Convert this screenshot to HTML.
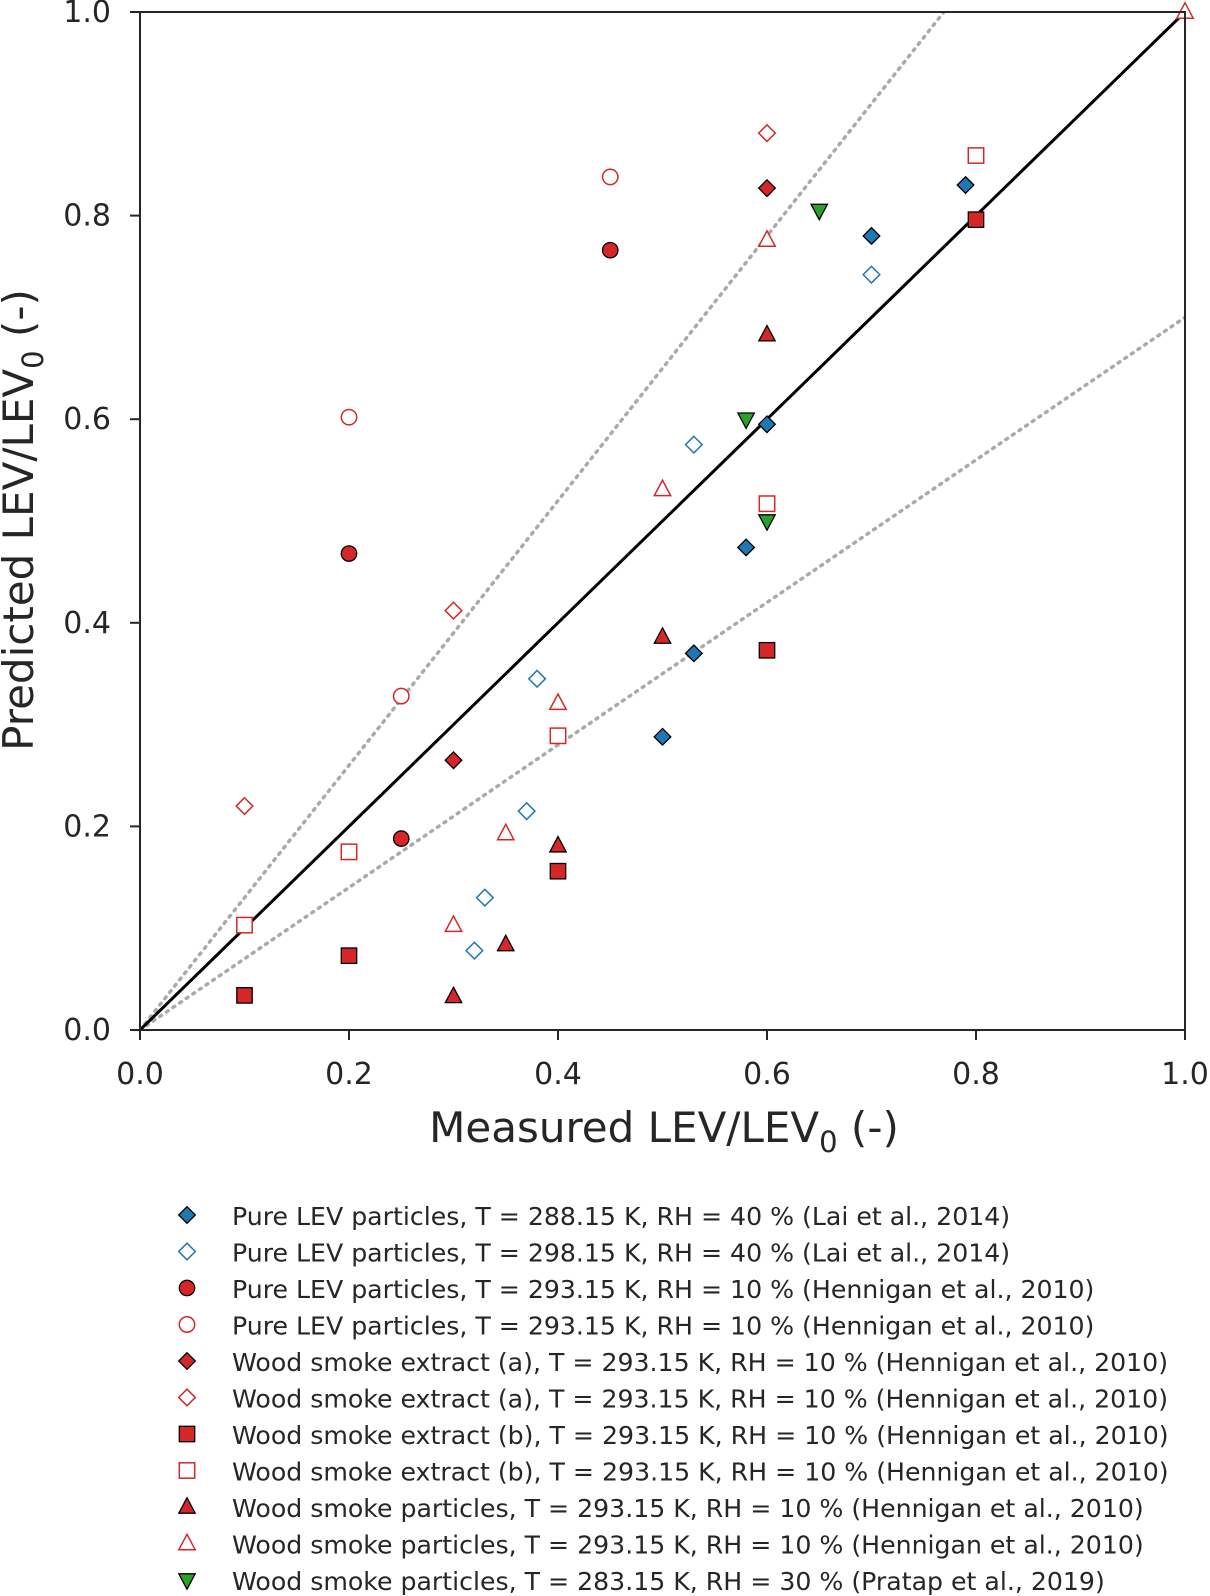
<!DOCTYPE html>
<html><head><meta charset="utf-8">
<style>
html,body{margin:0;padding:0;background:#fff;}
svg{display:block;font-family:"DejaVu Sans","Liberation Sans",sans-serif;}
</style></head>
<body>
<svg id="chart" width="1210" height="1596" viewBox="0 0 1210 1596"></svg>
<script>
const xTicks=[0,0.2,0.4,0.6,0.8,1.0];
const yTicks=[0,0.2,0.4,0.6,0.8,1.0];
const tickLabels=["0.0","0.2","0.4","0.6","0.8","1.0"];
const seriesNames=[
"Pure LEV particles, T = 288.15 K, RH = 40 % (Lai et al., 2014)",
"Pure LEV particles, T = 298.15 K, RH = 40 % (Lai et al., 2014)",
"Pure LEV particles, T = 293.15 K, RH = 10 % (Hennigan et al., 2010)",
"Pure LEV particles, T = 293.15 K, RH = 10 % (Hennigan et al., 2010)",
"Wood smoke extract (a), T = 293.15 K, RH = 10 % (Hennigan et al., 2010)",
"Wood smoke extract (a), T = 293.15 K, RH = 10 % (Hennigan et al., 2010)",
"Wood smoke extract (b), T = 293.15 K, RH = 10 % (Hennigan et al., 2010)",
"Wood smoke extract (b), T = 293.15 K, RH = 10 % (Hennigan et al., 2010)",
"Wood smoke particles, T = 293.15 K, RH = 10 % (Hennigan et al., 2010)",
"Wood smoke particles, T = 293.15 K, RH = 10 % (Hennigan et al., 2010)",
"Wood smoke particles, T = 283.15 K, RH = 30 % (Pratap et al., 2019)"];
const s0x=[0.79,0.70,0.60,0.58,0.53,0.50], s0y=[0.83,0.78,0.595,0.474,0.37,0.288];
const s1x=[0.70,0.53,0.38,0.37,0.33,0.32], s1y=[0.742,0.575,0.345,0.215,0.13,0.078];
const s2x=[0.45,0.20,0.25], s2y=[0.766,0.468,0.188];
const s3x=[0.45,0.20,0.25], s3y=[0.838,0.602,0.328];
const s4x=[0.60,0.30], s4y=[0.827,0.265];
const s5x=[0.60,0.30,0.10], s5y=[0.881,0.412,0.22];
const s6x=[0.80,0.60,0.40,0.20,0.10], s6y=[0.796,0.373,0.156,0.073,0.034];
const s7x=[0.80,0.60,0.40,0.20,0.10], s7y=[0.859,0.517,0.289,0.175,0.103];
const s8x=[0.60,0.50,0.40,0.35,0.30], s8y=[0.683,0.386,0.181,0.084,0.033];
const s9x=[1.0,0.60,0.50,0.40,0.35,0.30], s9y=[1.0,0.776,0.531,0.321,0.193,0.103];
const s10x=[0.65,0.58,0.60], s10y=[0.805,0.60,0.50];
const xs=[s0x,s1x,s2x,s3x,s4x,s5x,s6x,s7x,s8x,s9x,s10x];
const ys=[s0y,s1y,s2y,s3y,s4y,s5y,s6y,s7y,s8y,s9y,s10y];
const markers=["D","D","o","o","D","D","s","s","^","^","v"];
const colors=["#1f77b4","#1f77b4","#d62728","#d62728","#d62728","#d62728","#d62728","#d62728","#d62728","#d62728","#2ca02c"];
const filled=[true,false,true,false,true,false,true,false,true,false,true];
const slopes=[1.3,0.7];

const L=140,R=1185,T=12,B=1030;
const X=v=>L+v*(R-L), Y=v=>B-v*(B-T);
const svg=document.getElementById('chart');
const NS='http://www.w3.org/2000/svg';
function mk(tag,attrs,parent){const e=document.createElementNS(NS,tag);for(const k in attrs)e.setAttribute(k,attrs[k]);(parent||svg).appendChild(e);return e;}
function marker(type,cx,cy,col,fill,parent){
  const f=fill?col:'#fff', st=fill?'#000':col, sw=fill?1.3:1.5;
  let e;
  if(type==='D'){const r=8.3;e=mk('polygon',{points:`${cx},${cy-r} ${cx+r},${cy} ${cx},${cy+r} ${cx-r},${cy}`,fill:f,stroke:st,'stroke-width':sw},parent);}
  else if(type==='o'){e=mk('circle',{cx,cy,r:7.7,fill:f,stroke:st,'stroke-width':sw},parent);}
  else if(type==='s'){e=mk('rect',{x:cx-7.7,y:cy-7.7,width:15.4,height:15.4,fill:f,stroke:st,'stroke-width':sw},parent);}
  else if(type==='^'){e=mk('polygon',{points:`${cx},${cy-9.2} ${cx+8.2},${cy+6.2} ${cx-8.2},${cy+6.2}`,fill:f,stroke:st,'stroke-width':sw},parent);}
  else {e=mk('polygon',{points:`${cx},${cy+9.2} ${cx+8.2},${cy-6.2} ${cx-8.2},${cy-6.2}`,fill:f,stroke:st,'stroke-width':sw},parent);}
  return e;
}
const defs=mk('defs',{});const cp=mk('clipPath',{id:'clip'},defs);mk('rect',{x:L,y:T,width:R-L,height:B-T},cp);
slopes.forEach(s=>{
  const xe=Math.min(1,1/s);
  const l=mk('line',{x1:X(0),y1:Y(0),x2:X(xe),y2:Y(xe*s),stroke:'#aaaaaa','stroke-width':3.5,'stroke-dasharray':'2,6','stroke-linecap':'round','clip-path':'url(#clip)'});
  
  
});
const one=mk('line',{x1:X(0),y1:Y(0),x2:X(1),y2:Y(1),stroke:'#000','stroke-width':3});


xs.forEach((arr,i)=>{
  const g=mk('g',{});
  
  
  arr.forEach((v,j)=>{
    const m=marker(markers[i],X(v),Y(ys[i][j]),colors[i],filled[i],g);
    
    
  });
});
const fr=mk('rect',{x:L,y:T,width:R-L,height:B-T,fill:'none',stroke:'#262626','stroke-width':2});


xTicks.forEach((v,i)=>{
  mk('line',{x1:X(v),y1:B,x2:X(v),y2:B+10,stroke:'#262626','stroke-width':2});
  const t=mk('text',{x:X(v),y:B+54,'text-anchor':'middle','font-size':30,fill:'#262626'});t.textContent=tickLabels[i];
  
  
});
yTicks.forEach((v,i)=>{
  mk('line',{x1:L-10,y1:Y(v),x2:L,y2:Y(v),stroke:'#262626','stroke-width':2});
  const t=mk('text',{x:L-29,y:Y(v)+10,'text-anchor':'end','font-size':30,fill:'#262626'});t.textContent=tickLabels[i];
  
  
});
const xt=mk('text',{x:664,y:1142,'text-anchor':'middle','font-size':42,fill:'#262626'});
xt.innerHTML='Measured LEV/LEV<tspan font-size="29" dy="10">0</tspan><tspan dy="-10"> (-)</tspan>';


const yt=mk('text',{x:0,y:0,'text-anchor':'middle','font-size':42,fill:'#262626',transform:'translate(33,520) rotate(-90)'});
yt.innerHTML='Predicted LEV/LEV<tspan font-size="29" dy="10">0</tspan><tspan dy="-10"> (-)</tspan>';


seriesNames.forEach((n,i)=>{
  const y=1216+i*36.5;
  const g=mk('g',{});
  
  
  marker(markers[i],187,y-1,colors[i],filled[i],g);
  const t=mk('text',{x:232,y:y+9,'font-size':25.2,fill:'#262626'},g);t.textContent=n;
});
</script>
</body></html>
